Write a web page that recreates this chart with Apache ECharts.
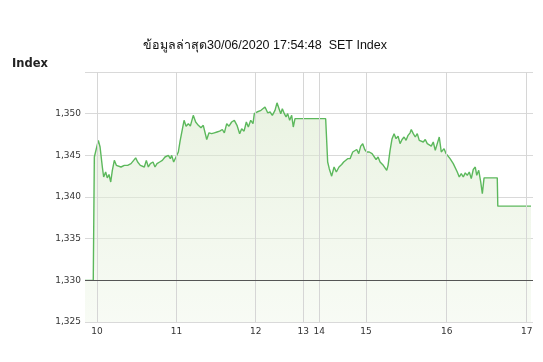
<!DOCTYPE html>
<html>
<head>
<meta charset="utf-8">
<script src="https://cdn.jsdelivr.net/npm/echarts@6/dist/echarts.min.js"></script>
<style>
html,body{margin:0;padding:0;background:#fff;}
#c{width:543px;height:362px;}
</style>
</head>
<body>
<div id="c"></div>
<script>
// Title / labels
var titleText = 'ข้อมูลล่าสุด30/06/2020 17:54:48  SET Index';
var yAxisName = 'Index';
// Hour tick labels and their positions on the (compressed) trading-minute axis
var hourLabels = ['10', '11', '12', '13', '14', '15', '16', '17'];
var hourPos = [0, 59.6, 119, 154.7, 166.7, 201.7, 262.3, 322.3];
var prevClose = 1330;
// Index series: minutes from 10:00 (compressed) and values
var minutes = [-9, -2.8, -2.0, 1.0, 2.3, 4.0, 5.0, 6.5, 7.7, 9.0, 10.3, 11.5, 13.0, 14.5, 16.0, 18.0, 20.5, 23.0, 25.5, 27.5, 29.0, 30.5, 32.5, 34.0, 35.5, 37.0, 38.5, 40.0, 42.0, 43.5, 45.0, 47.0, 49.0, 51.0, 52.5, 53.5, 55.0, 56.0, 57.5, 59.0, 61.0, 62.3, 65.3, 66.8, 68.5, 70.0, 72.2, 74.0, 76.0, 78.0, 79.7, 82.3, 84.0, 86.0, 88.0, 90.0, 92.0, 94.0, 95.5, 97.3, 99.0, 101.0, 103.0, 105.0, 107.0, 108.5, 110.3, 112.0, 113.5, 115.3, 117.0, 118.0, 120.0, 121.5, 123.0, 124.5, 126.0, 128.0, 129.8, 131.5, 133.5, 135.0, 136.5, 137.8, 139.0, 140.5, 141.8, 143.0, 144.5, 146.0, 147.2, 148.5, 171.5, 173.0, 174.2, 176.0, 177.8, 179.5, 181.5, 183.5, 185.0, 186.5, 188.0, 189.8, 191.8, 193.3, 194.8, 196.3, 197.8, 199.3, 200.8, 202.3, 204.2, 206.3, 207.8, 209.3, 210.8, 212.3, 213.8, 214.7, 216.2, 217.3, 218.3, 219.8, 221.3, 222.8, 224.3, 225.8, 227.3, 228.8, 230.3, 231.8, 233.3, 234.8, 235.7, 237.2, 238.7, 240.2, 241.7, 243.2, 244.7, 246.2, 247.7, 249.2, 250.7, 252.2, 253.7, 255.2, 256.7, 258.2, 260.3, 261.8, 263.3, 264.8, 266.3, 267.2, 268.7, 270.2, 271.7, 273.2, 274.7, 276.2, 277.7, 279.2, 280.7, 282.2, 283.7, 284.8, 286.3, 287.8, 289.0, 290.3, 300.2, 300.6, 325.5];
var values = [1330, 1330, 1344.8, 1346.8, 1346.0, 1343.6, 1342.4, 1343.0, 1342.3, 1342.7, 1341.8, 1343.2, 1344.4, 1343.8, 1344.0, 1343.6, 1343.8, 1343.8, 1344.0, 1344.4, 1344.7, 1344.2, 1343.8, 1344.0, 1343.6, 1344.4, 1343.6, 1344.0, 1344.2, 1343.6, 1344.0, 1344.2, 1344.4, 1344.8, 1344.6, 1345.0, 1344.6, 1345.0, 1344.2, 1344.0, 1345.4, 1346.7, 1349.2, 1348.5, 1348.8, 1348.5, 1349.8, 1349.0, 1348.6, 1348.3, 1348.6, 1346.9, 1347.7, 1347.6, 1347.7, 1347.8, 1347.9, 1348.1, 1347.7, 1348.8, 1348.5, 1349.0, 1349.2, 1348.6, 1347.6, 1348.2, 1347.9, 1349.0, 1348.4, 1349.2, 1348.8, 1350.0, 1350.2, 1350.0, 1350.4, 1350.2, 1350.8, 1350.1, 1350.2, 1349.8, 1350.4, 1351.3, 1351.2, 1350.0, 1350.6, 1350.0, 1349.6, 1350.0, 1349.2, 1349.8, 1348.4, 1349.4, 1349.4, 1344.2, 1343.4, 1342.5, 1343.6, 1343.0, 1343.6, 1343.9, 1344.2, 1344.0, 1344.6, 1344.6, 1345.4, 1345.2, 1345.7, 1345.2, 1346.1, 1346.4, 1345.7, 1345.4, 1345.4, 1345.2, 1345.3, 1344.5, 1344.8, 1344.2, 1344.4, 1343.8, 1343.6, 1343.2, 1343.8, 1345.6, 1347.0, 1347.6, 1347.0, 1347.3, 1346.4, 1346.9, 1347.2, 1346.8, 1347.4, 1347.7, 1348.1, 1347.6, 1347.2, 1347.6, 1346.8, 1347.0, 1346.6, 1346.9, 1346.4, 1346.6, 1346.1, 1346.6, 1345.6, 1346.4, 1347.2, 1345.4, 1345.8, 1345.2, 1345.4, 1344.6, 1344.8, 1344.0, 1344.2, 1343.0, 1342.4, 1342.8, 1342.4, 1342.9, 1342.6, 1343.0, 1342.2, 1343.3, 1343.6, 1342.6, 1343.2, 1341.8, 1340.4, 1342.3, 1342.3, 1338.9, 1338.9];

var seriesData = minutes.map(function (m, i) { return [m, values[i]]; });
var vLines = hourPos.map(function (p) { return { xAxis: p }; });

var chart = echarts.init(document.getElementById('c'), null, { renderer: 'canvas' });
chart.setOption({
  backgroundColor: '#ffffff',
  animation: false,
  title: {
    text: titleText,
    left: 138,
    top: 34,
    textStyle: { fontSize: 12.5, fontWeight: 'normal', color: '#111', fontFamily: '"Liberation Sans", Arial, sans-serif' }
  },
  grid: { left: 85, right: 10, top: 72, bottom: 40, containLabel: false },
  graphic: [{
    type: 'text', left: 12, top: 58,
    style: { text: yAxisName, font: 'bold 11.5px "DejaVu Sans", Verdana, sans-serif', fill: '#222' }
  }],
  xAxis: {
    type: 'value',
    min: -9, max: 327,
    axisLine: { show: false },
    axisTick: { show: false },
    splitLine: { show: false },
    axisLabel: {
      customValues: hourPos,
      formatter: function (v) {
        for (var i = 0; i < hourPos.length; i++) { if (Math.abs(hourPos[i] - v) < 0.01) return hourLabels[i]; }
        return '';
      },
      fontSize: 9, color: '#333', margin: 5, fontFamily: '"DejaVu Sans", Verdana, sans-serif'
    }
  },
  yAxis: {
    type: 'value',
    min: 1325, max: 1355, interval: 5,
    axisLine: { show: false },
    axisTick: { show: false },
    splitLine: { show: true, lineStyle: { color: '#d9d9d9', width: 1 } },
    axisLabel: {
      formatter: function (v) { return v === 1355 ? '' : v.toLocaleString('en-US'); },
      fontSize: 9, color: '#333', margin: 4, fontFamily: '"DejaVu Sans", Verdana, sans-serif'
    }
  },
  series: [
    {
      type: 'line',
      name: 'grid',
      z: 1,
      data: seriesData,
      showSymbol: false,
      silent: true,
      lineStyle: { opacity: 0 },
      markLine: {
        silent: true, symbol: 'none', label: { show: false },
        lineStyle: { color: '#d6d6d6', width: 1, type: 'solid' },
        data: vLines
      }
    },
    {
      type: 'line',
      name: 'SET',
      z: 3,
      data: seriesData,
      showSymbol: false,
      lineStyle: { color: '#5cb85c', width: 1.4 },
      areaStyle: {
        origin: 'start',
        color: new echarts.graphic.LinearGradient(0, 0, 0, 1, [
          { offset: 0, color: 'rgba(215,232,200,0.75)' },
          { offset: 1, color: 'rgba(240,247,234,0.7)' }
        ])
      },
      markLine: {
        silent: true, symbol: 'none', label: { show: false },
        lineStyle: { color: '#555', width: 1, type: 'solid' },
        data: [{ yAxis: prevClose }]
      }
    }
  ]
});
</script>
</body>
</html>
